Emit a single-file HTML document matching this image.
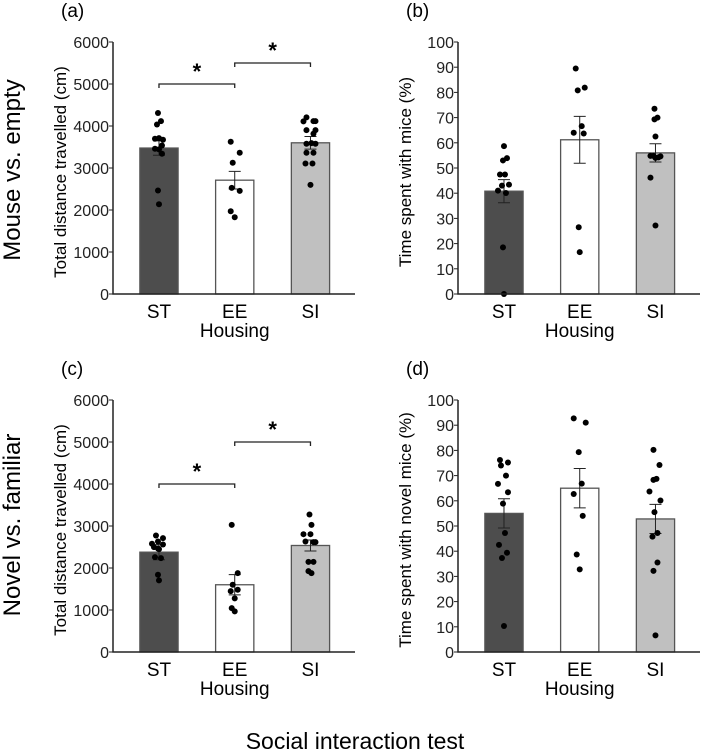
<!DOCTYPE html>
<html><head><meta charset="utf-8"><style>
body{margin:0;background:#fff;}
svg{display:block;font-family:"Liberation Sans",Arial,sans-serif;}
</style></head><body>
<svg id="fig" width="709" height="755" viewBox="0 0 709 755" xmlns="http://www.w3.org/2000/svg">
<text x="20" y="170" font-size="24" text-anchor="middle" transform="rotate(-90 20 170)">Mouse vs. empty</text>
<text x="20" y="525" font-size="24" text-anchor="middle" transform="rotate(-90 20 525)">Novel vs. familiar</text>
<text x="355" y="749" font-size="23" text-anchor="middle">Social interaction test</text>
</svg>
<script>
const categories = ["ST","EE","SI"];
// panel a
const aMeans = [3475, 2710, 3600];
const aErr = [170, 210, 150];
const aPoints = [[4310,4117,4037,3712,3696,3672,3458,3537,3442,3339,2464,2138],[3624,3362,3124,2528,2456,1971,1828],[4204,4117,4117,4109,3903,3903,3815,3577,3593,3577,3362,3362,3108,3108,2599]];
const aJitter = [[-1,2,-2,0,-4,4,-4,3,0,3,-1,0],[-4,5,-2,-3,5,-4,0],[-4,3,5,-7,-4,5,3,-4,1,5,-4,3,-5,2,0]];
// panel b
const bMeans = [40.8, 61.2, 56];
const bErr = [4.6, 9.3, 3.6];
const bPoints = [[58.7,53.9,53,47.4,47.4,41,43,43.4,40.1,18.5,0],[89.5,80.8,81.9,66.6,64,63.7,26.5,16.6],[73.5,69.3,70,62.5,54.8,54.8,54.2,54.6,46.2,27.2,54]];
const bJitter = [[0,3,-1,-4,1,-6,-2,5,2,-1,0],[-4,-2,5,2,-6,4,-1,0],[-1,-1,2,0,-5,-2,3,5,-5,0,0]];
// panel c
const cMeans = [2377, 1601, 2536];
const cErr = [180, 240, 130];
const cPoints = [[2774,2710,2576,2631,2560,2496,2449,2259,2235,2465,1838,1704],[3027,1878,1601,1450,1482,1276,1046,967],[3273,3027,2805,2805,2615,2631,2615,2147,2147,1925,1878]];
const cJitter = [[-3,4,-7,-1,4,-5,0,-4,2,-1,-1,0],[-3,3,-2,-4,3,0,-3,0],[-1,1,-7,0,5,-5,3,-2,3,-2,1]];
// panel d
const dMeans = [55, 65, 52.8];
const dErr = [5.8, 7.8, 5.8];
const dPoints = [[76.2,75.2,74,70,66.7,63.4,58.9,47.2,42.5,39.4,37.3,10.3],[92.7,91,79.3,66.8,62.7,54,38.7,32.8],[80.2,74.2,68.3,68.7,63.7,60.1,55.5,47.2,45.8,35.5,32.2,6.6]];
const dJitter = [[-4,4,-3,2,-6,4,-1,1,-5,3,-2,0],[-6,6,-1,2,-6,3,-3,0],[-2,4,-2,1,-6,5,-1,2,-3,2,-2,0]];
const ticks6000 = [0,1000,2000,3000,4000,5000,6000];
const ticks100 = [0,10,20,30,40,50,60,70,80,90,100];
const aSig = [[0,1,5000],[1,2,5500]];
const cSig = [[0,1,4000],[1,2,5000]];

const NS = "http://www.w3.org/2000/svg";
const svg = document.getElementById('fig');
function mk(tag, attrs, parent){const e=document.createElementNS(NS,tag);for(const k in attrs)e.setAttribute(k,attrs[k]);(parent||svg).appendChild(e);return e;}
const fills = ["#4d4d4d","#ffffff","#c0c0c0"];

function panel(id, ax0, ax1, yTop, yBot, ymax, ticks, means, errs, pts, jit, ytitle, sigs){
  const g = mk('g',{});
  
  
  const ys = v => yBot - v/ymax*(yBot-yTop);
  const bw = (ax1-ax0)*0.158;
  const xs = i => ax0 + (ax1-ax0)*(0.19 + i*0.313);
  const pl = mk('text',{x:ax0-52,y:yTop-25,'font-size':19},g); pl.textContent='('+id+')';
  
  
  const tx0 = ax0-47, tyc=(yTop+yBot)/2+4;
  const yt = mk('text',{x:tx0,y:tyc,'font-size':17,'text-anchor':'middle',transform:`rotate(-90 ${tx0} ${tyc})`},g); yt.textContent=ytitle;
  
  
  ticks.forEach(t=>{
    const l = mk('line',{x1:ax0-4,x2:ax0,y1:ys(t),y2:ys(t),stroke:'#222','stroke-width':1},g);
    
    
    const tx = mk('text',{x:ax0-4,y:ys(t)+6,'font-size':16,'text-anchor':'end',fill:'#222'},g); tx.textContent=t;
    
    
  });
  categories.forEach((c,i)=>{
    const cx = xs(i);
    const b = mk('rect',{x:cx-bw/2,y:ys(means[i]),width:bw,height:yBot-ys(means[i]),fill:fills[i],stroke:'#555','stroke-width':1.3},g);
    
    
    const e1=ys(means[i]+errs[i]), e2=ys(means[i]-errs[i]);
    const eb = mk('path',{d:`M${cx} ${e1}V${e2}M${cx-6} ${e1}H${cx+6}M${cx-6} ${e2}H${cx+6}`,stroke:'#222','stroke-width':1,fill:'none'},g);
    
    
    pts[i].forEach((v,j)=>{
      const d = mk('circle',{cx:cx+jit[i][j],cy:ys(v),r:3,fill:'#000'},g);
      
      
    });
    const xl = mk('text',{x:cx,y:yBot+24,'font-size':19,'text-anchor':'middle'},g); xl.textContent=c;
    
    
  });
  const ax = mk('path',{d:`M${ax0} ${yTop}V${yBot}H${ax1}`,stroke:'#222','stroke-width':1.5,fill:'none'},g);
  
  
  const xt = mk('text',{x:xs(1),y:yBot+43,'font-size':19,'text-anchor':'middle'},g); xt.textContent='Housing';
  
  
  (sigs||[]).forEach(s=>{
    const x1=xs(s[0]), x2=xs(s[1]), y=ys(s[2]);
    const br = mk('path',{d:`M${x1} ${y+4}V${y}H${x2}V${y+4}`,stroke:'#222','stroke-width':1.3,fill:'none'},g);
    
    
    const st = mk('text',{x:(x1+x2)/2,y:y-5,'font-size':22,'font-weight':'bold','text-anchor':'middle'},g); st.textContent='*';
    
    
  });
}
panel('a',113,355,42,294,6000,ticks6000,aMeans,aErr,aPoints,aJitter,'Total distance travelled (cm)',aSig);
panel('b',458,700,42,294,100,ticks100,bMeans,bErr,bPoints,bJitter,'Time spent with mice (%)',null);
panel('c',113,355,400,652,6000,ticks6000,cMeans,cErr,cPoints,cJitter,'Total distance travelled (cm)',cSig);
panel('d',458,700,400,652,100,ticks100,dMeans,dErr,dPoints,dJitter,'Time spent with novel mice (%)',null);
</script>
</body></html>
